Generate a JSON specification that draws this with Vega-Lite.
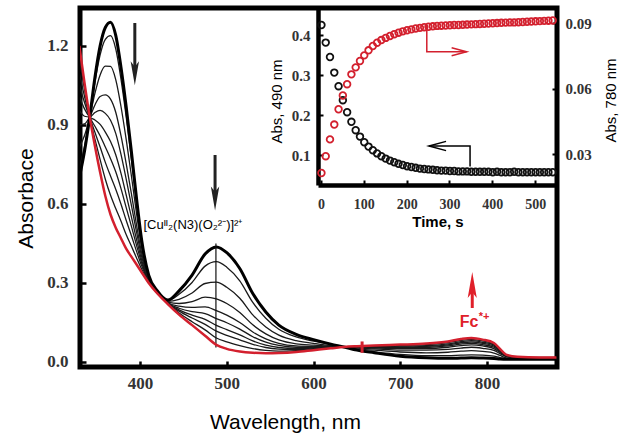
{
"$schema":"https://vega.github.io/schema/vega-lite/v6.json",
"width":477,"height":359,
"autosize":{"type":"none"},
"padding":{"left":80,"top":8,"right":67,"bottom":74},
"background":"white",
"config":{"view":{"stroke":"#000","strokeWidth":5},"axis":{"grid":false}},
"datasets":{
"spec":[
{"s":0,"w":330,"a":0.70},{"s":0,"w":336,"a":0.80},{"s":0,"w":342,"a":0.93},{"s":0,"w":348,"a":1.08},{"s":0,"w":354,"a":1.20},{"s":0,"w":360,"a":1.27},{"s":0,"w":366,"a":1.29},{"s":0,"w":372,"a":1.24},{"s":0,"w":378,"a":1.12},{"s":0,"w":384,"a":0.97},{"s":0,"w":390,"a":0.80},{"s":0,"w":396,"a":0.62},{"s":0,"w":402,"a":0.46},{"s":0,"w":410,"a":0.33},{"s":0,"w":420,"a":0.27},{"s":0,"w":432,"a":0.235},{"s":0,"w":445,"a":0.27},{"s":0,"w":460,"a":0.33},{"s":0,"w":475,"a":0.41},{"s":0,"w":488,"a":0.437},{"s":0,"w":500,"a":0.415},{"s":0,"w":515,"a":0.355},{"s":0,"w":530,"a":0.26},{"s":0,"w":545,"a":0.19},{"s":0,"w":560,"a":0.14},{"s":0,"w":580,"a":0.105},{"s":0,"w":600,"a":0.085},{"s":0,"w":620,"a":0.068},{"s":0,"w":635,"a":0.057},{"s":0,"w":650,"a":0.045},{"s":0,"w":670,"a":0.035},{"s":0,"w":700,"a":0.022},{"s":0,"w":730,"a":0.016},{"s":0,"w":755,"a":0.014},{"s":0,"w":770,"a":0.015},{"s":0,"w":782,"a":0.016},{"s":0,"w":795,"a":0.015},{"s":0,"w":808,"a":0.013},{"s":0,"w":815,"a":0.011},{"s":0,"w":822,"a":0.01},{"s":0,"w":835,"a":0.01},{"s":0,"w":860,"a":0.01},{"s":0,"w":880,"a":0.01},
{"s":1,"w":330,"a":0.735},{"s":1,"w":336,"a":0.818},{"s":1,"w":342,"a":0.93},{"s":1,"w":348,"a":1.062},{"s":1,"w":354,"a":1.166},{"s":1,"w":360,"a":1.225},{"s":1,"w":366,"a":1.239},{"s":1,"w":372,"a":1.189},{"s":1,"w":378,"a":1.075},{"s":1,"w":384,"a":0.932},{"s":1,"w":390,"a":0.772},{"s":1,"w":396,"a":0.603},{"s":1,"w":402,"a":0.452},{"s":1,"w":410,"a":0.328},{"s":1,"w":420,"a":0.269},{"s":1,"w":432,"a":0.233},{"s":1,"w":445,"a":0.257},{"s":1,"w":460,"a":0.302},{"s":1,"w":475,"a":0.364},{"s":1,"w":488,"a":0.381},{"s":1,"w":500,"a":0.36},{"s":1,"w":515,"a":0.308},{"s":1,"w":530,"a":0.226},{"s":1,"w":545,"a":0.166},{"s":1,"w":560,"a":0.124},{"s":1,"w":580,"a":0.095},{"s":1,"w":600,"a":0.079},{"s":1,"w":620,"a":0.066},{"s":1,"w":635,"a":0.057},{"s":1,"w":650,"a":0.047},{"s":1,"w":670,"a":0.039},{"s":1,"w":700,"a":0.029},{"s":1,"w":730,"a":0.024},{"s":1,"w":755,"a":0.024},{"s":1,"w":770,"a":0.026},{"s":1,"w":782,"a":0.027},{"s":1,"w":795,"a":0.026},{"s":1,"w":808,"a":0.022},{"s":1,"w":815,"a":0.017},{"s":1,"w":822,"a":0.013},{"s":1,"w":835,"a":0.012},{"s":1,"w":860,"a":0.011},{"s":1,"w":880,"a":0.011},
{"s":2,"w":330,"a":0.815},{"s":2,"w":336,"a":0.86},{"s":2,"w":342,"a":0.93},{"s":2,"w":348,"a":1.02},{"s":2,"w":354,"a":1.09},{"s":2,"w":360,"a":1.123},{"s":2,"w":366,"a":1.122},{"s":2,"w":372,"a":1.072},{"s":2,"w":378,"a":0.971},{"s":2,"w":384,"a":0.846},{"s":2,"w":390,"a":0.708},{"s":2,"w":396,"a":0.563},{"s":2,"w":402,"a":0.432},{"s":2,"w":410,"a":0.323},{"s":2,"w":420,"a":0.266},{"s":2,"w":432,"a":0.23},{"s":2,"w":445,"a":0.238},{"s":2,"w":460,"a":0.262},{"s":2,"w":475,"a":0.298},{"s":2,"w":488,"a":0.303},{"s":2,"w":500,"a":0.284},{"s":2,"w":515,"a":0.242},{"s":2,"w":530,"a":0.179},{"s":2,"w":545,"a":0.133},{"s":2,"w":560,"a":0.102},{"s":2,"w":580,"a":0.081},{"s":2,"w":600,"a":0.071},{"s":2,"w":620,"a":0.062},{"s":2,"w":635,"a":0.057},{"s":2,"w":650,"a":0.05},{"s":2,"w":670,"a":0.045},{"s":2,"w":700,"a":0.038},{"s":2,"w":730,"a":0.035},{"s":2,"w":755,"a":0.037},{"s":2,"w":770,"a":0.041},{"s":2,"w":782,"a":0.043},{"s":2,"w":795,"a":0.04},{"s":2,"w":808,"a":0.034},{"s":2,"w":815,"a":0.025},{"s":2,"w":822,"a":0.016},{"s":2,"w":835,"a":0.014},{"s":2,"w":860,"a":0.013},{"s":2,"w":880,"a":0.013},
{"s":3,"w":330,"a":0.90},{"s":3,"w":336,"a":0.904},{"s":3,"w":342,"a":0.93},{"s":3,"w":348,"a":0.976},{"s":3,"w":354,"a":1.008},{"s":3,"w":360,"a":1.014},{"s":3,"w":366,"a":0.998},{"s":3,"w":372,"a":0.948},{"s":3,"w":378,"a":0.86},{"s":3,"w":384,"a":0.754},{"s":3,"w":390,"a":0.64},{"s":3,"w":396,"a":0.52},{"s":3,"w":402,"a":0.412},{"s":3,"w":410,"a":0.318},{"s":3,"w":420,"a":0.265},{"s":3,"w":432,"a":0.227},{"s":3,"w":445,"a":0.222},{"s":3,"w":460,"a":0.229},{"s":3,"w":475,"a":0.246},{"s":3,"w":488,"a":0.24},{"s":3,"w":500,"a":0.222},{"s":3,"w":515,"a":0.188},{"s":3,"w":530,"a":0.141},{"s":3,"w":545,"a":0.107},{"s":3,"w":560,"a":0.084},{"s":3,"w":580,"a":0.069},{"s":3,"w":600,"a":0.064},{"s":3,"w":620,"a":0.06},{"s":3,"w":635,"a":0.057},{"s":3,"w":650,"a":0.053},{"s":3,"w":670,"a":0.05},{"s":3,"w":700,"a":0.045},{"s":3,"w":730,"a":0.045},{"s":3,"w":755,"a":0.048},{"s":3,"w":770,"a":0.053},{"s":3,"w":782,"a":0.056},{"s":3,"w":795,"a":0.052},{"s":3,"w":808,"a":0.044},{"s":3,"w":815,"a":0.032},{"s":3,"w":822,"a":0.02},{"s":3,"w":835,"a":0.015},{"s":3,"w":860,"a":0.014},{"s":3,"w":880,"a":0.014},
{"s":4,"w":330,"a":0.955},{"s":4,"w":336,"a":0.933},{"s":4,"w":342,"a":0.93},{"s":4,"w":348,"a":0.947},{"s":4,"w":354,"a":0.955},{"s":4,"w":360,"a":0.944},{"s":4,"w":366,"a":0.918},{"s":4,"w":372,"a":0.868},{"s":4,"w":378,"a":0.789},{"s":4,"w":384,"a":0.695},{"s":4,"w":390,"a":0.596},{"s":4,"w":396,"a":0.493},{"s":4,"w":402,"a":0.399},{"s":4,"w":410,"a":0.315},{"s":4,"w":420,"a":0.264},{"s":4,"w":432,"a":0.225},{"s":4,"w":445,"a":0.212},{"s":4,"w":460,"a":0.207},{"s":4,"w":475,"a":0.209},{"s":4,"w":488,"a":0.195},{"s":4,"w":500,"a":0.178},{"s":4,"w":515,"a":0.15},{"s":4,"w":530,"a":0.114},{"s":4,"w":545,"a":0.088},{"s":4,"w":560,"a":0.071},{"s":4,"w":580,"a":0.061},{"s":4,"w":600,"a":0.059},{"s":4,"w":620,"a":0.058},{"s":4,"w":635,"a":0.057},{"s":4,"w":650,"a":0.055},{"s":4,"w":670,"a":0.053},{"s":4,"w":700,"a":0.051},{"s":4,"w":730,"a":0.051},{"s":4,"w":755,"a":0.056},{"s":4,"w":770,"a":0.062},{"s":4,"w":782,"a":0.065},{"s":4,"w":795,"a":0.061},{"s":4,"w":808,"a":0.051},{"s":4,"w":815,"a":0.036},{"s":4,"w":822,"a":0.022},{"s":4,"w":835,"a":0.017},{"s":4,"w":860,"a":0.015},{"s":4,"w":880,"a":0.015},
{"s":5,"w":330,"a":1.01},{"s":5,"w":336,"a":0.961},{"s":5,"w":342,"a":0.93},{"s":5,"w":348,"a":0.919},{"s":5,"w":354,"a":0.902},{"s":5,"w":360,"a":0.873},{"s":5,"w":366,"a":0.837},{"s":5,"w":372,"a":0.787},{"s":5,"w":378,"a":0.717},{"s":5,"w":384,"a":0.635},{"s":5,"w":390,"a":0.552},{"s":5,"w":396,"a":0.465},{"s":5,"w":402,"a":0.386},{"s":5,"w":410,"a":0.311},{"s":5,"w":420,"a":0.263},{"s":5,"w":432,"a":0.224},{"s":5,"w":445,"a":0.204},{"s":5,"w":460,"a":0.191},{"s":5,"w":475,"a":0.184},{"s":5,"w":488,"a":0.165},{"s":5,"w":500,"a":0.149},{"s":5,"w":515,"a":0.125},{"s":5,"w":530,"a":0.096},{"s":5,"w":545,"a":0.075},{"s":5,"w":560,"a":0.063},{"s":5,"w":580,"a":0.056},{"s":5,"w":600,"a":0.056},{"s":5,"w":620,"a":0.056},{"s":5,"w":635,"a":0.057},{"s":5,"w":650,"a":0.056},{"s":5,"w":670,"a":0.055},{"s":5,"w":700,"a":0.054},{"s":5,"w":730,"a":0.055},{"s":5,"w":755,"a":0.061},{"s":5,"w":770,"a":0.068},{"s":5,"w":782,"a":0.071},{"s":5,"w":795,"a":0.066},{"s":5,"w":808,"a":0.056},{"s":5,"w":815,"a":0.039},{"s":5,"w":822,"a":0.023},{"s":5,"w":835,"a":0.017},{"s":5,"w":860,"a":0.015},{"s":5,"w":880,"a":0.015},
{"s":6,"w":330,"a":1.055},{"s":6,"w":336,"a":0.985},{"s":6,"w":342,"a":0.93},{"s":6,"w":348,"a":0.895},{"s":6,"w":354,"a":0.859},{"s":6,"w":360,"a":0.816},{"s":6,"w":366,"a":0.772},{"s":6,"w":372,"a":0.722},{"s":6,"w":378,"a":0.659},{"s":6,"w":384,"a":0.587},{"s":6,"w":390,"a":0.516},{"s":6,"w":396,"a":0.443},{"s":6,"w":402,"a":0.375},{"s":6,"w":410,"a":0.309},{"s":6,"w":420,"a":0.262},{"s":6,"w":432,"a":0.223},{"s":6,"w":445,"a":0.198},{"s":6,"w":460,"a":0.178},{"s":6,"w":475,"a":0.162},{"s":6,"w":488,"a":0.139},{"s":6,"w":500,"a":0.123},{"s":6,"w":515,"a":0.103},{"s":6,"w":530,"a":0.08},{"s":6,"w":545,"a":0.064},{"s":6,"w":560,"a":0.055},{"s":6,"w":580,"a":0.051},{"s":6,"w":600,"a":0.053},{"s":6,"w":620,"a":0.055},{"s":6,"w":635,"a":0.057},{"s":6,"w":650,"a":0.057},{"s":6,"w":670,"a":0.057},{"s":6,"w":700,"a":0.057},{"s":6,"w":730,"a":0.059},{"s":6,"w":755,"a":0.065},{"s":6,"w":770,"a":0.073},{"s":6,"w":782,"a":0.076},{"s":6,"w":795,"a":0.071},{"s":6,"w":808,"a":0.06},{"s":6,"w":815,"a":0.042},{"s":6,"w":822,"a":0.024},{"s":6,"w":835,"a":0.018},{"s":6,"w":860,"a":0.016},{"s":6,"w":880,"a":0.016},
{"s":7,"w":330,"a":1.10},{"s":7,"w":336,"a":1.008},{"s":7,"w":342,"a":0.93},{"s":7,"w":348,"a":0.872},{"s":7,"w":354,"a":0.816},{"s":7,"w":360,"a":0.758},{"s":7,"w":366,"a":0.706},{"s":7,"w":372,"a":0.656},{"s":7,"w":378,"a":0.60},{"s":7,"w":384,"a":0.538},{"s":7,"w":390,"a":0.48},{"s":7,"w":396,"a":0.42},{"s":7,"w":402,"a":0.364},{"s":7,"w":410,"a":0.306},{"s":7,"w":420,"a":0.261},{"s":7,"w":432,"a":0.222},{"s":7,"w":445,"a":0.193},{"s":7,"w":460,"a":0.167},{"s":7,"w":475,"a":0.143},{"s":7,"w":488,"a":0.117},{"s":7,"w":500,"a":0.101},{"s":7,"w":515,"a":0.084},{"s":7,"w":530,"a":0.067},{"s":7,"w":545,"a":0.055},{"s":7,"w":560,"a":0.049},{"s":7,"w":580,"a":0.047},{"s":7,"w":600,"a":0.051},{"s":7,"w":620,"a":0.054},{"s":7,"w":635,"a":0.057},{"s":7,"w":650,"a":0.058},{"s":7,"w":670,"a":0.059},{"s":7,"w":700,"a":0.06},{"s":7,"w":730,"a":0.062},{"s":7,"w":755,"a":0.069},{"s":7,"w":770,"a":0.077},{"s":7,"w":782,"a":0.081},{"s":7,"w":795,"a":0.075},{"s":7,"w":808,"a":0.064},{"s":7,"w":815,"a":0.045},{"s":7,"w":822,"a":0.025},{"s":7,"w":835,"a":0.019},{"s":7,"w":860,"a":0.016},{"s":7,"w":880,"a":0.016},
{"s":8,"w":330,"a":1.15},{"s":8,"w":336,"a":1.034},{"s":8,"w":342,"a":0.93},{"s":8,"w":348,"a":0.846},{"s":8,"w":354,"a":0.768},{"s":8,"w":360,"a":0.694},{"s":8,"w":366,"a":0.633},{"s":8,"w":372,"a":0.583},{"s":8,"w":378,"a":0.535},{"s":8,"w":384,"a":0.484},{"s":8,"w":390,"a":0.44},{"s":8,"w":396,"a":0.395},{"s":8,"w":402,"a":0.352},{"s":8,"w":410,"a":0.303},{"s":8,"w":420,"a":0.261},{"s":8,"w":432,"a":0.221},{"s":8,"w":445,"a":0.186},{"s":8,"w":460,"a":0.153},{"s":8,"w":475,"a":0.122},{"s":8,"w":488,"a":0.091},{"s":8,"w":500,"a":0.076},{"s":8,"w":515,"a":0.062},{"s":8,"w":530,"a":0.051},{"s":8,"w":545,"a":0.044},{"s":8,"w":560,"a":0.041},{"s":8,"w":580,"a":0.043},{"s":8,"w":600,"a":0.048},{"s":8,"w":620,"a":0.053},{"s":8,"w":635,"a":0.057},{"s":8,"w":650,"a":0.059},{"s":8,"w":670,"a":0.061},{"s":8,"w":700,"a":0.063},{"s":8,"w":730,"a":0.066},{"s":8,"w":755,"a":0.074},{"s":8,"w":770,"a":0.082},{"s":8,"w":782,"a":0.086},{"s":8,"w":795,"a":0.08},{"s":8,"w":808,"a":0.068},{"s":8,"w":815,"a":0.047},{"s":8,"w":822,"a":0.027},{"s":8,"w":835,"a":0.019},{"s":8,"w":860,"a":0.017},{"s":8,"w":880,"a":0.017},
{"s":9,"w":330,"a":1.20},{"s":9,"w":336,"a":1.06},{"s":9,"w":342,"a":0.93},{"s":9,"w":348,"a":0.82},{"s":9,"w":354,"a":0.72},{"s":9,"w":360,"a":0.63},{"s":9,"w":366,"a":0.56},{"s":9,"w":372,"a":0.51},{"s":9,"w":378,"a":0.47},{"s":9,"w":384,"a":0.43},{"s":9,"w":390,"a":0.40},{"s":9,"w":396,"a":0.37},{"s":9,"w":402,"a":0.34},{"s":9,"w":410,"a":0.30},{"s":9,"w":420,"a":0.26},{"s":9,"w":432,"a":0.22},{"s":9,"w":445,"a":0.18},{"s":9,"w":460,"a":0.14},{"s":9,"w":475,"a":0.10},{"s":9,"w":488,"a":0.065},{"s":9,"w":500,"a":0.05},{"s":9,"w":515,"a":0.04},{"s":9,"w":530,"a":0.035},{"s":9,"w":545,"a":0.033},{"s":9,"w":560,"a":0.034},{"s":9,"w":580,"a":0.038},{"s":9,"w":600,"a":0.045},{"s":9,"w":620,"a":0.052},{"s":9,"w":635,"a":0.057},{"s":9,"w":650,"a":0.06},{"s":9,"w":670,"a":0.063},{"s":9,"w":700,"a":0.066},{"s":9,"w":730,"a":0.07},{"s":9,"w":755,"a":0.078},{"s":9,"w":770,"a":0.087},{"s":9,"w":782,"a":0.091},{"s":9,"w":795,"a":0.085},{"s":9,"w":808,"a":0.072},{"s":9,"w":815,"a":0.05},{"s":9,"w":822,"a":0.028},{"s":9,"w":835,"a":0.02},{"s":9,"w":860,"a":0.017},{"s":9,"w":880,"a":0.017}
],
"bk":[
{"t":1,"a":0.425},{"t":11,"a":0.381},{"t":21,"a":0.345},{"t":31,"a":0.306},{"t":41,"a":0.272},{"t":51,"a":0.237},{"t":61,"a":0.207},{"t":71,"a":0.183},{"t":81,"a":0.162},{"t":91,"a":0.146},{"t":101,"a":0.132},{"t":111,"a":0.121},{"t":121,"a":0.112},{"t":131,"a":0.104},{"t":141,"a":0.097},{"t":151,"a":0.091},{"t":161,"a":0.086},{"t":171,"a":0.082},{"t":181,"a":0.078},{"t":191,"a":0.075},{"t":201,"a":0.072},{"t":211,"a":0.07},{"t":221,"a":0.068},{"t":231,"a":0.066},{"t":241,"a":0.065},{"t":251,"a":0.064},{"t":261,"a":0.063},{"t":271,"a":0.062},{"t":281,"a":0.061},{"t":291,"a":0.061},{"t":301,"a":0.06},{"t":311,"a":0.06},{"t":321,"a":0.059},{"t":331,"a":0.059},{"t":341,"a":0.059},{"t":351,"a":0.058},{"t":361,"a":0.058},{"t":371,"a":0.058},{"t":381,"a":0.058},{"t":391,"a":0.058},{"t":401,"a":0.057},{"t":411,"a":0.058},{"t":421,"a":0.057},{"t":431,"a":0.057},{"t":441,"a":0.057},{"t":451,"a":0.058},{"t":461,"a":0.057},{"t":471,"a":0.057},{"t":481,"a":0.057},{"t":491,"a":0.057},{"t":501,"a":0.057},{"t":511,"a":0.057},{"t":521,"a":0.057},{"t":531,"a":0.057},{"t":541,"a":0.057}
],
"rd":[
{"t":1,"a":0.0213},{"t":11,"a":0.029},{"t":21,"a":0.0367},{"t":31,"a":0.0435},{"t":41,"a":0.0505},{"t":51,"a":0.0568},{"t":61,"a":0.062},{"t":71,"a":0.0665},{"t":81,"a":0.0697},{"t":91,"a":0.0726},{"t":101,"a":0.0752},{"t":111,"a":0.0775},{"t":121,"a":0.0795},{"t":131,"a":0.081},{"t":141,"a":0.0822},{"t":151,"a":0.0832},{"t":161,"a":0.0841},{"t":171,"a":0.0849},{"t":181,"a":0.0856},{"t":191,"a":0.0862},{"t":201,"a":0.0867},{"t":211,"a":0.0871},{"t":221,"a":0.0875},{"t":231,"a":0.0878},{"t":241,"a":0.0881},{"t":251,"a":0.0883},{"t":261,"a":0.0885},{"t":271,"a":0.0887},{"t":281,"a":0.0888},{"t":291,"a":0.0889},{"t":301,"a":0.089},{"t":311,"a":0.0891},{"t":321,"a":0.0891},{"t":331,"a":0.0892},{"t":341,"a":0.0893},{"t":351,"a":0.0894},{"t":361,"a":0.0895},{"t":371,"a":0.0896},{"t":381,"a":0.0897},{"t":391,"a":0.0898},{"t":401,"a":0.0899},{"t":411,"a":0.09},{"t":421,"a":0.0901},{"t":431,"a":0.0902},{"t":441,"a":0.0903},{"t":451,"a":0.0903},{"t":461,"a":0.0904},{"t":471,"a":0.0905},{"t":481,"a":0.0906},{"t":491,"a":0.0907},{"t":501,"a":0.0908},{"t":511,"a":0.0909},{"t":521,"a":0.091},{"t":531,"a":0.0911},{"t":541,"a":0.0912}
]
},
"resolve":{"scale":{"x":"independent","y":"independent"}},
"layer":[
{
"encoding":{
"x":{"field":"w","type":"quantitative","scale":{"domain":[330.8,880.7],"nice":false,"zero":false},
"axis":{"values":[400,500,600,700,800],"format":"d","domain":false,"tickSize":-6,"tickWidth":2.5,"tickColor":"#000","labelFont":"Liberation Serif","labelFontWeight":"bold","labelFontSize":17,"labelColor":"#333","labelPadding":14,"labelFlush":false,"title":"Wavelength, nm","titleFont":"Liberation Sans","titleFontSize":21,"titleFontWeight":"normal","titleColor":"#000","titleX":205,"titleY":61,"titleBaseline":"alphabetic"}},
"y":{"field":"a","type":"quantitative","scale":{"domain":[-0.019,1.344],"nice":false,"zero":false},
"axis":{"values":[0,0.3,0.6,0.9,1.2],"format":".1f","domain":false,"tickSize":-6,"tickWidth":2.5,"tickColor":"#000","labelFont":"Liberation Serif","labelFontWeight":"bold","labelFontSize":17,"labelColor":"#333","labelPadding":18,"labelFlush":false,"title":"Absorbace","titleFont":"Liberation Sans","titleFontSize":21,"titleFontWeight":"normal","titleColor":"#000","titleX":-48,"titleY":190,"titleAngle":270,"titleBaseline":"alphabetic"}}
},
"layer":[
{"data":{"name":"spec"},"transform":[{"filter":"datum.s>0 && datum.s<9"}],"mark":{"type":"line","interpolate":"monotone","clip":true,"strokeWidth":1.3,"color":"#1a1a1a"},"encoding":{"detail":{"field":"s","type":"nominal"}}},
{"data":{"name":"spec"},"transform":[{"filter":"datum.s==0"}],"mark":{"type":"line","interpolate":"monotone","clip":true,"strokeWidth":3,"color":"#000"}},
{"data":{"values":[{"w":487.5,"a":0.055,"a2":0.45}]},"mark":{"type":"rule","strokeWidth":1.2,"color":"#111"},"encoding":{"y2":{"field":"a2"}}},
{"data":{"name":"spec"},"transform":[{"filter":"datum.s==9"}],"mark":{"type":"line","interpolate":"monotone","clip":true,"strokeWidth":2.5,"color":"#d3202e"}},
{"data":{"values":[{"w":656,"a":0.035,"a2":0.078}]},"mark":{"type":"rule","strokeWidth":3,"color":"#d3202e"},"encoding":{"y2":{"field":"a2"}}},
{"data":{"values":[{"w":394,"a":1.287,"a2":1.1},{"w":486.5,"a":0.786,"a2":0.63}]},"mark":{"type":"rule","strokeWidth":3,"color":"#222"},"encoding":{"y2":{"field":"a2"}}},
{"data":{"values":[{"w":394,"a":1.096},{"w":486.5,"a":0.621}]},"mark":{"type":"point","shape":"M0,1L-0.35,-1L0,-0.55L0.35,-1Z","size":576,"filled":true,"opacity":1,"color":"#222","strokeWidth":0}},
{"data":{"values":[{"w":783,"a":0.205,"a2":0.29}]},"mark":{"type":"rule","strokeWidth":3,"color":"#e0202a"},"encoding":{"y2":{"field":"a2"}}},
{"data":{"values":[{"w":783,"a":0.292}]},"mark":{"type":"point","shape":"M0,-1L-0.35,1L0,0.55L0.35,1Z","size":676,"filled":true,"opacity":1,"color":"#e0202a","strokeWidth":0}},
{"data":{"values":[{"w":461,"a":0.505,"t":"[Cuᴵᴵ₂(N3)(O₂²⁻)]²⁺"}]},"mark":{"type":"text","font":"Liberation Sans","fontSize":13,"align":"center","baseline":"alphabetic","color":"#000"},"encoding":{"text":{"field":"t"}}},
{"data":{"values":[{"w":779.3,"a":0.134,"t":"Fc"}]},"mark":{"type":"text","font":"Liberation Sans","fontSize":16,"fontWeight":"bold","align":"center","baseline":"alphabetic","color":"#e0202a"},"encoding":{"text":{"field":"t"}}},
{"data":{"values":[{"w":790.5,"a":0.158,"t":"*+"}]},"mark":{"type":"text","font":"Liberation Sans","fontSize":11,"fontWeight":"bold","align":"left","baseline":"alphabetic","color":"#e0202a"},"encoding":{"text":{"field":"t"}}}
]
},
{
"encoding":{
"x":{"field":"t","type":"quantitative","scale":{"domain":[-7,551],"range":[238,477],"nice":false,"zero":false},
"axis":{"orient":"bottom","offset":-182,"values":[0,100,200,300,400,500],"format":"d","domain":true,"domainWidth":4.5,"domainColor":"#000","tickSize":-5,"tickWidth":2,"tickColor":"#000","labelFont":"Liberation Serif","labelFontWeight":"bold","labelFontSize":14,"labelColor":"#333","labelPadding":17,"labelFlush":false,"title":"Time, s","titleFont":"Liberation Sans","titleFontSize":15,"titleFontWeight":"bold","titleColor":"#000","titleY":41,"titleBaseline":"alphabetic"}}
},
"layer":[
{
"encoding":{"y":{"field":"a","type":"quantitative","scale":{"domain":[0.025,0.4675],"range":[177,0],"nice":false,"zero":false},
"axis":{"orient":"left","offset":-238,"values":[0.1,0.2,0.3,0.4],"format":".1f","domain":true,"domainWidth":4.5,"domainColor":"#000","tickSize":-5,"tickWidth":2,"tickColor":"#000","labelFont":"Liberation Serif","labelFontWeight":"bold","labelFontSize":15,"labelColor":"#333","labelPadding":13,"labelFlush":false,"title":"Abs, 490 nm","titleFont":"Liberation Sans","titleFontSize":15,"titleFontWeight":"normal","titleColor":"#000","titleX":-37,"titleY":93,"titleAngle":270,"titleBaseline":"alphabetic"}}},
"layer":[
{"data":{"name":"bk"},"mark":{"type":"point","shape":"circle","filled":false,"size":44,"strokeWidth":1.8,"color":"#111","opacity":1}},
{"data":{"values":[{"p":"l","o":1,"t":247,"a":0.425},{"p":"l","o":2,"t":247,"a":0.358},{"p":"l","o":3,"t":340,"a":0.358},{"p":"h","o":1,"t":305,"a":0.368},{"p":"h","o":2,"t":340,"a":0.358},{"p":"h","o":3,"t":305,"a":0.348}]},"mark":{"type":"line","color":"#d3202e","strokeWidth":1.5},"encoding":{"detail":{"field":"p","type":"nominal"},"order":{"field":"o","type":"quantitative"}}},
{"data":{"values":[{"p":"l","o":1,"t":348,"a":0.071},{"p":"l","o":2,"t":348,"a":0.1225},{"p":"l","o":3,"t":252,"a":0.1225},{"p":"h","o":1,"t":292,"a":0.134},{"p":"h","o":2,"t":252,"a":0.1225},{"p":"h","o":3,"t":292,"a":0.111}]},"mark":{"type":"line","color":"#000","strokeWidth":1.5},"encoding":{"detail":{"field":"p","type":"nominal"},"order":{"field":"o","type":"quantitative"}}}
]
},
{"data":{"name":"rd"},"mark":{"type":"point","shape":"circle","filled":false,"size":44,"strokeWidth":1.8,"color":"#d3202e","opacity":1},
"encoding":{"y":{"field":"a","type":"quantitative","scale":{"domain":[0.0158,0.0969],"range":[177,0],"nice":false,"zero":false},
"axis":{"orient":"right","values":[0.03,0.06,0.09],"format":".2f","domain":false,"tickSize":-5,"tickWidth":2,"tickColor":"#000","labelFont":"Liberation Serif","labelFontWeight":"bold","labelFontSize":15,"labelColor":"#333","labelPadding":13,"labelFlush":false,"title":"Abs, 780 nm","titleFont":"Liberation Sans","titleFontSize":15,"titleFontWeight":"normal","titleColor":"#000","titleX":58,"titleY":92,"titleAngle":270,"titleBaseline":"alphabetic"}}}}
],
"resolve":{"scale":{"y":"independent"}}
}
]
}
